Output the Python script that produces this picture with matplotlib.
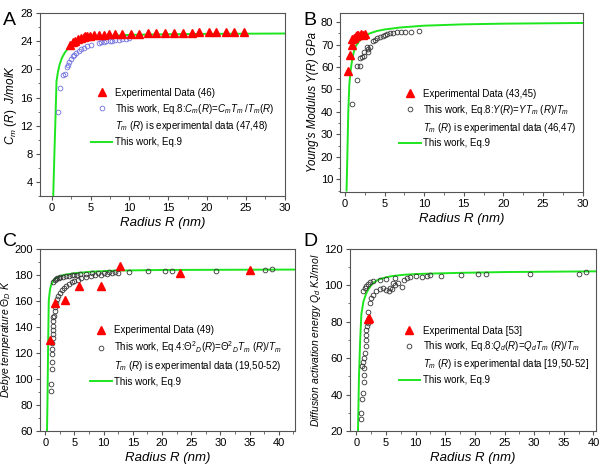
import matplotlib
matplotlib.use("Agg")
import matplotlib.pyplot as plt
from matplotlib.lines import Line2D
from matplotlib.ticker import MultipleLocator

plt.rcParams['font.family'] = ['Liberation Sans', 'DejaVu Sans']
plt.rcParams['mathtext.fontset'] = 'custom'
plt.rcParams['mathtext.rm'] = 'Liberation Sans'
plt.rcParams['mathtext.it'] = 'Liberation Sans:italic'

GREEN = '#1ee61e'
RED = '#ff0000'
BLUE = '#6f6fe0'
GRAY = '#333333'

# ---- panel A: heat capacity ----
a_exp_r = [2.4, 2.7, 3.05, 3.4, 3.8, 4.1, 4.35, 4.6, 4.95, 5.4, 6.05, 6.7, 7.4, 8.15, 9.1,
           10.2, 11.2, 12.4, 13.4, 14.6, 15.8, 16.95, 18.1, 19.0, 20.2, 21.2, 22.4, 23.4, 24.8]
a_exp_v = [23.5, 23.9, 24.1, 24.3, 24.5, 24.6, 24.7, 24.75, 24.8, 24.85, 24.9, 24.95, 25.0, 25.0, 25.05,
           25.1, 25.1, 25.15, 25.15, 25.2, 25.2, 25.2, 25.2, 25.25, 25.25, 25.25, 25.25, 25.3, 25.3]
a_calc_r = [0.75, 1.08, 1.5, 1.65, 1.93, 2.05, 2.28, 2.5, 2.7, 2.9, 3.1, 3.5, 3.8, 4.2, 4.6, 5.1,
            6.1, 6.4, 6.7, 7.0, 7.5, 7.8, 8.2, 8.6, 9.0, 9.5, 9.9]
a_calc_v = [13.9, 17.3, 19.2, 19.3, 20.4, 20.6, 21.1, 21.5, 21.85, 22.1, 22.3, 22.6, 22.9, 23.1, 23.3, 23.4,
            23.75, 23.85, 23.95, 24.0, 24.05, 24.1, 24.15, 24.2, 24.25, 24.3, 24.45]
a_fit_r = [0.2, 0.35, 0.5, 0.62, 0.8, 1.0, 1.3, 1.7, 2.2, 3.0, 4.0, 5.0, 7.0, 10, 15, 20, 30]
a_fit_v = [2, 8, 13.5, 18.3, 19.6, 20.6, 21.6, 22.4, 23.1, 23.8, 24.2, 24.45, 24.7, 24.9, 25.0, 25.05, 25.1]

# ---- panel B: Young's modulus ----
b_exp_r = [0.34, 0.63, 0.84, 0.93, 1.14, 1.35, 1.47, 1.68, 2.0, 2.3, 2.5]
b_exp_v = [58.0, 65.5, 69.6, 72.6, 73.0, 73.6, 74.1, 74.4, 74.5, 74.4, 74.5]
b_calc_r = [0.93, 1.47, 1.56, 1.9, 1.89, 2.1, 2.44, 2.44, 2.73, 2.94, 2.94, 3.2, 3.49, 3.79, 4.08, 4.42,
            4.75, 5.05, 5.34, 5.68, 6.1, 6.52, 7.03, 7.6, 8.4, 9.3]
b_calc_v = [43.6, 54.0, 60.3, 60.3, 64.0, 64.4, 64.7, 66.6, 68.9, 66.6, 68.1, 69.1, 71.5, 72.1, 72.9, 73.3,
            73.8, 74.2, 74.7, 75.0, 75.3, 75.5, 75.8, 75.4, 75.7, 76.0]
b_fit_r = [0.2, 0.3, 0.42, 0.55, 0.7, 0.9, 1.1, 1.4, 1.8, 2.4, 3.0, 4.0, 5.0, 7.0, 10, 15, 20, 30]
b_fit_v = [5, 20, 40, 52, 58, 63, 66.5, 69.5, 71.5, 73.5, 74.8, 76, 76.7, 77.6, 78.4, 79.0, 79.3, 79.6]

# ---- panel C: Debye temperature ----
c_exp_r = [0.86, 1.71, 3.3, 5.7, 9.5, 12.8, 23.1, 35.0]
c_exp_v = [129.7, 158.2, 160.5, 170.8, 171.5, 186.4, 181.3, 183.6]
c_calc_r = [1.0, 1.05, 1.1, 1.12, 1.15, 1.2, 1.2, 1.25, 1.25, 1.3, 1.3, 1.35, 1.4,
            1.4, 1.6, 1.8, 2.0, 2.3, 2.6, 3.0, 3.5, 4.0, 4.5, 5.0, 5.5, 6.0, 7.0, 8.0, 9.0,
            10.0, 11.0, 12.0,
            1.5, 1.6, 1.7, 1.8, 2.0, 2.2, 2.5, 2.8, 3.2, 3.6, 4.0, 4.5, 5.0, 5.6, 6.2, 7.0,
            7.8, 8.6, 9.5, 10.5, 11.5, 12.5,
            14.3, 17.6, 20.5, 21.8, 29.3, 37.6, 38.8]
c_calc_v = [90.8, 96.0, 107.5, 112.5, 119.0, 123.0, 127.0, 131.0, 134.0, 137.5, 140.5, 144.0, 147.5,
            174.0, 175.5, 176.5, 177.0, 177.5, 177.8, 178.0, 178.5, 179.0, 179.5, 179.8, 180.0, 180.3,
            180.6, 181.0, 181.2, 181.5, 181.8, 182.0,
            148, 152, 155, 158, 161, 163.5, 166, 168, 170, 171.5, 172.8, 174, 175, 176, 177, 178,
            178.8, 179.5, 180, 180.5, 181, 181.5,
            182.0, 182.5, 183.0, 182.8, 183.0, 183.2, 184.0]
c_fit_r = [0.3, 0.4, 0.5, 0.6, 0.8, 1.0, 1.5, 2.0, 3.0, 5, 8, 12, 20, 43]
c_fit_v = [60, 90, 130, 160, 168, 172, 176, 177.8, 179.5, 181, 182.2, 183, 183.5, 183.8]

# ---- panel D: diffusion activation energy ----
d_exp_r = [1.9, 2.1]
d_exp_v = [81.2, 81.8]
d_calc_r = [0.75, 0.85, 1.02, 1.02, 1.13, 1.24, 1.24, 1.24, 1.13, 1.24, 1.41, 1.58, 1.58, 1.58,
            1.7, 1.8, 1.9, 1.95,
            1.13, 1.41, 1.7, 1.98, 2.3, 2.8,
            2.26, 2.54, 2.8, 3.4, 3.95, 4.5, 5.0, 5.5, 5.6, 6.0, 6.2, 6.5, 7.0, 7.7, 8.0, 8.5,
            9.0, 10.0, 11.0, 12.0, 12.5, 4.0, 5.0, 6.5,
            14.3, 17.6, 20.5, 21.8, 29.3, 37.6, 38.8]
d_calc_v = [26.6, 30.0, 37.3, 55.7, 40.9, 47.0, 50.6, 54.4, 58.0, 60.0, 62.7, 66.4, 69.7, 72.4,
            75.1, 77.3, 79.0, 85.0,
            96.5, 98.4, 99.6, 100.7, 101.5, 102.4,
            90.1, 92.8, 94.6, 96.5, 97.7, 98.6, 97.0, 96.5, 98.2, 98.0, 101.0, 100.0, 101.0, 99.0, 103.0, 104.0,
            104.5, 105.0, 104.5, 105.0, 105.5, 102.5, 103.5, 104.0,
            105.0, 105.5, 106.0, 106.0, 106.0, 106.2, 107.0]
d_fit_r = [0.28, 0.45, 0.65, 0.85, 1.2, 1.7, 2.2, 2.8, 3.5, 4.5, 6, 8, 10, 13, 18, 25, 40.7]
d_fit_v = [20, 50, 70, 84, 91, 95.6, 98.5, 101, 102.6, 103.8, 104.9, 105.6, 106, 106.3, 106.7, 107.1, 107.5]

fig = plt.figure(figsize=(6, 4.68), dpi=100)

panels = [
    dict(rect=[0.0667, 0.581, 0.408, 0.391], letter='A', lpos=(0.005, 0.975),
         exp=(a_exp_r, a_exp_v), calc=(a_calc_r, a_calc_v), fit=(a_fit_r, a_fit_v),
         ccol=BLUE, xlim=(-1.5, 30), ylim=(2, 28), xmaj=5, ymaj=4, ylsize=8.5,
         ylabel=r'$C_m$ $(R)$  J/molK',
         labels=['Experimental Data (46)',
                 r'This work, Eq.8:$C_m(R)$=$C_mT_m$ /$T_m(R)$',
                 r'$T_m$ $(R)$ is experimental data (47,48)'],
         leg=(0.18, 0.63)),
    dict(rect=[0.567, 0.590, 0.404, 0.382], letter='B', lpos=(0.505, 0.975),
         exp=(b_exp_r, b_exp_v), calc=(b_calc_r, b_calc_v), fit=(b_fit_r, b_fit_v),
         ccol=GRAY, xlim=(-0.6, 30), ylim=(4.4, 84), xmaj=5, ymaj=10, ylsize=8.3,
         ylabel=r"Young's Modulus Y(R) GPa",
         labels=['Experimental Data (43,45)',
                 r'This work, Eq.8:$Y(R)$=$YT_m$ $(R)/T_m$',
                 r'$T_m$ $(R)$ is experimental data (46,47)'],
         leg=(0.215, 0.615)),
    dict(rect=[0.0667, 0.080, 0.425, 0.389], letter='C', lpos=(0.005, 0.502),
         exp=(c_exp_r, c_exp_v), calc=(c_calc_r, c_calc_v), fit=(c_fit_r, c_fit_v),
         ccol=GRAY, xlim=(-0.9, 42.8), ylim=(60, 200), xmaj=5, ymaj=20, ylsize=7.5,
         ylabel=r'Debye temperature $\Theta_D$ K',
         labels=['Experimental Data (49)',
                 r'This work, Eq.4:$\Theta^2{}_D(R)$=$\Theta^2{}_DT_m$ $(R)/T_m$',
                 r'$T_m$ $(R)$ is experimental data (19,50-52)'],
         leg=(0.17, 0.615)),
    dict(rect=[0.583, 0.079, 0.411, 0.390], letter='D', lpos=(0.505, 0.502),
         exp=(d_exp_r, d_exp_v), calc=(d_calc_r, d_calc_v), fit=(d_fit_r, d_fit_v),
         ccol=GRAY, xlim=(-1.1, 40.5), ylim=(20, 120), xmaj=5, ymaj=20, ylsize=7.5,
         ylabel=r'Diffusion activation energy $Q_d$ KJ/mol',
         labels=['Experimental Data [53]',
                 r'This work, Eq.8:$Q_d(R)$=$Q_dT_m$ $(R)/T_m$',
                 r'$T_m$ $(R)$ is experimental data [19,50-52]'],
         leg=(0.17, 0.615)),
]

for p in panels:
    ax = fig.add_axes(p['rect'])
    fit_line, = ax.plot(*p['fit'], color=GREEN, lw=1.4, zorder=2)
    calc_pts, = ax.plot(*p['calc'], linestyle='none', marker='o', ms=3.4, mfc='none',
                        mec=p['ccol'], mew=0.6, zorder=3)
    exp_pts, = ax.plot(*p['exp'], linestyle='none', marker='^', ms=5.5, color=RED,
                       mec=RED, zorder=4)
    ax.set_xlim(*p['xlim'])
    ax.set_ylim(*p['ylim'])
    ax.xaxis.set_major_locator(MultipleLocator(p['xmaj']))
    ax.xaxis.set_minor_locator(MultipleLocator(p['xmaj'] / 2))
    ax.yaxis.set_major_locator(MultipleLocator(p['ymaj']))
    ax.yaxis.set_minor_locator(MultipleLocator(p['ymaj'] / 2))
    ax.tick_params(which='both', direction='out', labelsize=8, pad=2, color='#555555')
    ax.tick_params(which='major', length=3)
    ax.tick_params(which='minor', length=1.8)
    for s in ax.spines.values():
        s.set_color('#555555')
        s.set_linewidth(0.8)
    ax.set_xlabel('Radius R (nm)', fontsize=9.5, style='italic', labelpad=3)
    ax.set_ylabel(p['ylabel'], fontsize=p['ylsize'], style='italic', labelpad=1)

    blank = Line2D([], [], linestyle='none')
    ax.legend([exp_pts, calc_pts, blank, fit_line],
              p['labels'] + ['This work, Eq.9'],
              loc='upper left', bbox_to_anchor=p['leg'], frameon=False,
              fontsize=7.0, handlelength=2.2, handletextpad=0.3,
              labelspacing=0.4, borderpad=0.2)
    fig.text(p['lpos'][0], p['lpos'][1], p['letter'], fontsize=14, va='top', ha='left')

fig.savefig('out.png', dpi=100)
